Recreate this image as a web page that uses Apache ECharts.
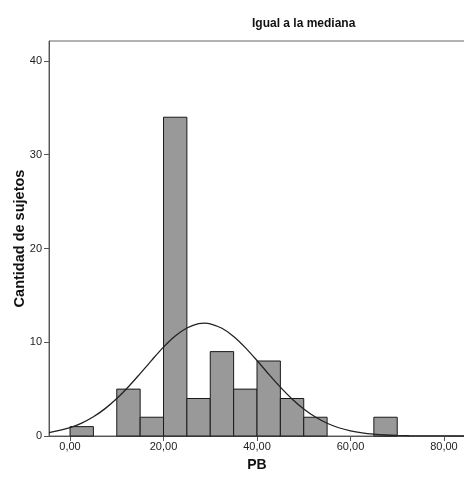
<!DOCTYPE html>
<html><head><meta charset="utf-8">
<script src="https://cdn.jsdelivr.net/npm/echarts@6/dist/echarts.min.js"></script>
<style>html,body{margin:0;padding:0;background:#fff}#c{width:464px;height:477px}</style>
</head><body><div id="c"></div>
<script>
// Histogram bins (start, end) and counts
var binStart = [0, 5, 10, 15, 20, 25, 30, 35, 40, 45, 50, 55, 60, 65];
var binEnd   = [5, 10, 15, 20, 25, 30, 35, 40, 45, 50, 55, 60, 65, 70];
var counts   = [1, 0, 5, 2, 34, 4, 9, 5, 8, 4, 2, 0, 0, 2];
// Normal curve points
var curveX = [-4.5, 0, 2.5, 5, 7.5, 10, 12.5, 15, 17.5, 20, 22.5, 25, 27.5, 28.7, 30, 32.5, 35, 37.5, 40, 42.5, 45, 47.5, 50, 52.5, 55, 57.5, 60, 62.5, 65, 67.5, 70, 72.5, 75, 80, 84.3];
var curveY = [0.37, 0.90, 1.38, 2.05, 2.92, 4.00, 5.26, 6.66, 8.10, 9.48, 10.66, 11.52, 11.98, 12.03, 11.97, 11.49, 10.62, 9.43, 8.05, 6.60, 5.21, 3.95, 2.88, 2.02, 1.36, 0.88, 0.55, 0.33, 0.19, 0.105, 0.056, 0.029, 0.014, 0.003, 0.0005];
var xTicks = [0, 20, 40, 60, 80];
var yTicks = [0, 10, 20, 30, 40];
var title = 'Igual a la mediana';
var xName = 'PB';
var yName = 'Cantidad de sujetos';

var barData = binStart.map(function (s, i) { return [s, binEnd[i], counts[i]]; }).filter(function (d) { return d[2] > 0; });
var lineData = curveX.map(function (x, i) { return [x, curveY[i]]; });

var font = 'Liberation Sans, Arial, sans-serif';
var chart = echarts.init(document.getElementById('c'));
chart.setOption({
  animation: false,
  title: { text: title, left: 247, top: 13, textStyle: { fontFamily: font, fontSize: 12, fontWeight: 'bold', color: '#111' } },
  grid: { left: 49, right: -1, top: 41, bottom: 41, show: true, borderColor: '#666', borderWidth: 1, containLabel: false, outerBoundsMode: 'none' },
  xAxis: {
    type: 'value', min: -4.5, max: 84.5,
    name: xName, nameLocation: 'middle', nameGap: 22, nameMoveOverlap: false,
    nameTextStyle: { fontFamily: font, fontSize: 14, fontWeight: 'bold', color: '#111' },
    axisLine: { show: true, onZero: false, lineStyle: { color: '#555' } },
    axisTick: { show: true, length: 5, customValues: xTicks, lineStyle: { color: '#555' } },
    axisLabel: { customValues: xTicks, fontFamily: font, fontSize: 11, color: '#222', margin: 5,
      formatter: function (v) { return v.toFixed(2).replace('.', ','); } },
    splitLine: { show: false }
  },
  yAxis: {
    type: 'value', min: 0, max: 42.13,
    name: yName, nameLocation: 'middle', nameGap: 22, nameMoveOverlap: false,
    nameTextStyle: { fontFamily: font, fontSize: 14.5, fontWeight: 'bold', color: '#111' },
    axisLine: { show: true, onZero: false, lineStyle: { color: '#555' } },
    axisTick: { show: true, length: 5, customValues: yTicks, lineStyle: { color: '#555' } },
    axisLabel: { customValues: yTicks, fontFamily: font, fontSize: 11, color: '#222', margin: 7 },
    splitLine: { show: false }
  },
  series: [
    {
      type: 'custom',
      data: barData,
      encode: { x: [0, 1], y: 2 },
      renderItem: function (params, api) {
        var p0 = api.coord([api.value(0), api.value(2)]);
        var p1 = api.coord([api.value(1), 0]);
        return {
          type: 'rect',
          shape: { x: p0[0], y: p0[1], width: p1[0] - p0[0], height: p1[1] - p0[1] },
          style: { fill: '#999999', stroke: '#1a1a1a', lineWidth: 1 }
        };
      }
    },
    {
      type: 'line', data: lineData, smooth: 0.3, showSymbol: false,
      lineStyle: { color: '#222', width: 1.3 }, z: 5
    }
  ]
});
</script>
</body></html>
